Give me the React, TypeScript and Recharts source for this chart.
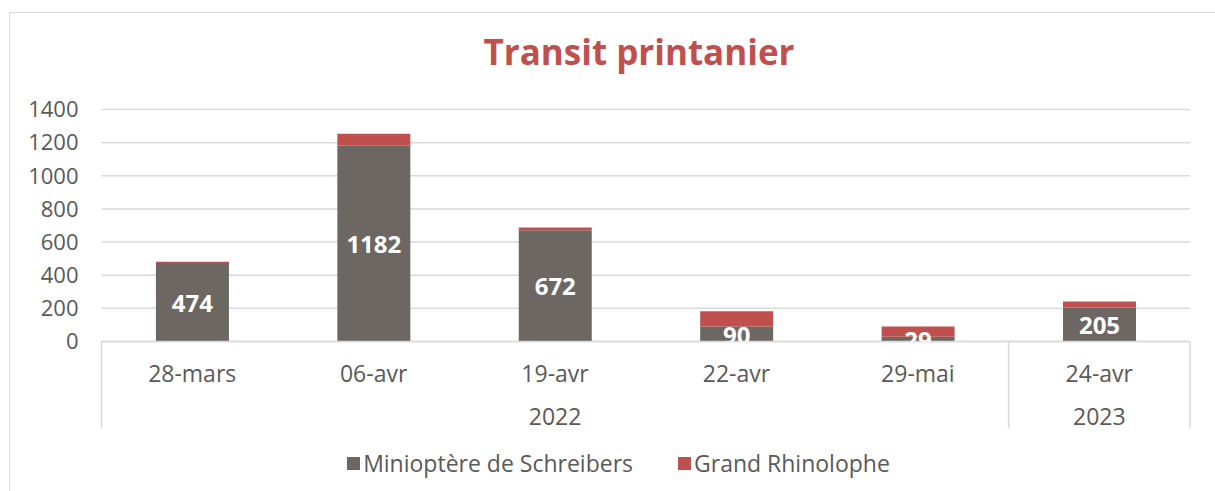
import React from 'react';
import { BarChart, Bar, XAxis, YAxis, CartesianGrid, LabelList } from 'recharts';

const categories = ['28-mars', '06-avr', '19-avr', '22-avr', '29-mai', '24-avr'];
const years = ['2022', '2022', '2022', '2022', '2022', '2023'];
const minioptere = [474, 1182, 672, 90, 29, 205];
const rhinolophe = [8, 71, 16, 93, 61, 36];
const yTicks = [0, 200, 400, 600, 800, 1000, 1200, 1400];

const SERIES = [
  { key: 'minio', name: 'Minioptère de Schreibers', color: '#6c6763' },
  { key: 'rhino', name: 'Grand Rhinolophe', color: '#c0504d' },
];

const data = categories.map((c, i) => ({
  date: c,
  year: years[i],
  minio: minioptere[i],
  rhino: rhinolophe[i],
}));

const FONT = '"Open Sans", "Noto Sans", sans-serif';
const TEXT = '#595959';
const LINE = '#d9d9d9';

const XTick = (props: any) => {
  const { x, y, payload } = props;
  const i: number = payload.index;
  const off: number = payload.offset || 0;
  const yr = years[i];
  const first = years.indexOf(yr);
  const last = years.lastIndexOf(yr);
  const centerX = x + ((first + last) / 2 - i) * 2 * off;
  return (
    <g>
      <text x={x} y={y + 31} textAnchor="middle" dominantBaseline="central" fill={TEXT} fontSize={23} fontFamily={FONT}>
        {payload.value}
      </text>
      {i === first && (
        <text x={centerX} y={y + 74} textAnchor="middle" dominantBaseline="central" fill={TEXT} fontSize={23} fontFamily={FONT}>
          {yr}
        </text>
      )}
      {i === first && <line x1={x - off} x2={x - off} y1={y} y2={y + 87} stroke={LINE} strokeWidth={1.5} />}
      {i === years.length - 1 && <line x1={x + off} x2={x + off} y1={y} y2={y + 87} stroke={LINE} strokeWidth={1.5} />}
    </g>
  );
};

const ValueLabel = (props: any) => {
  const { x, y, width, height, value, index } = props;
  const id = `clip-lbl-${index}`;
  return (
    <g>
      <defs>
        <clipPath id={id}>
          <rect x={x - 50} y={y - 200} width={width + 100} height={height + 200} />
        </clipPath>
      </defs>
      <text
        x={x + width / 2}
        y={y + height / 2}
        textAnchor="middle"
        dominantBaseline="central"
        fill="#ffffff"
        fontWeight="bold"
        fontSize={24}
        fontFamily={FONT}
        clipPath={`url(#${id})`}
      >
        {value}
      </text>
    </g>
  );
};

export default function App() {
  return (
    <div style={{ position: 'absolute', left: 0, top: 0, width: 1215, height: 491, background: '#fff', overflow: 'hidden' }}>
      <div
        style={{
          position: 'absolute',
          left: 9,
          top: 12,
          width: 1206,
          height: 479,
          borderTop: `1.5px solid ${LINE}`,
          borderLeft: `1.5px solid ${LINE}`,
          boxSizing: 'border-box',
        }}
      />
      <div
        style={{
          position: 'absolute',
          left: 639,
          top: 35,
          transform: 'translateX(-50%)',
          fontFamily: FONT,
          fontWeight: 'bold',
          fontSize: 35,
          lineHeight: '34px',
          color: '#c0504d',
          whiteSpace: 'nowrap',
        }}
      >
        Transit printanier
      </div>
      <div style={{ position: 'absolute', left: 0, top: 0 }}>
        <BarChart
          width={1215}
          height={491}
          data={data}
          margin={{ top: 109.5, right: 25, left: 0, bottom: 0 }}
          barCategoryGap="30%"
        >
          <CartesianGrid vertical={false} stroke={LINE} strokeWidth={1.5} />
          <XAxis
            dataKey="date"
            height={149.5}
            axisLine={{ stroke: LINE, strokeWidth: 1.5 }}
            tickLine={false}
            tickSize={0}
            tickMargin={0}
            interval={0}
            tick={<XTick />}
          />
          <YAxis
            width={101.5}
            domain={[0, 1400]}
            ticks={yTicks}
            interval={0}
            axisLine={false}
            tickLine={false}
            tickMargin={17}
            tick={{ fill: TEXT, fontSize: 22, fontFamily: FONT }}
          />
          <Bar dataKey="minio" name={SERIES[0].name} stackId="a" fill={SERIES[0].color} isAnimationActive={false}>
            <LabelList dataKey="minio" content={<ValueLabel />} />
          </Bar>
          <Bar dataKey="rhino" name={SERIES[1].name} stackId="a" fill={SERIES[1].color} isAnimationActive={false} />
        </BarChart>
      </div>
      <div
        style={{
          position: 'absolute',
          left: 11,
          top: 448,
          width: 1215,
          height: 30,
          display: 'flex',
          justifyContent: 'center',
          alignItems: 'center',
          gap: 45,
          fontFamily: FONT,
          fontSize: 23,
          color: TEXT,
        }}
      >
        {SERIES.map((s) => (
          <div key={s.key} style={{ display: 'flex', alignItems: 'center' }}>
            <span style={{ display: 'inline-block', width: 13, height: 13, background: s.color, marginRight: 3 }} />
            <span>{s.name}</span>
          </div>
        ))}
      </div>
    </div>
  );
}
